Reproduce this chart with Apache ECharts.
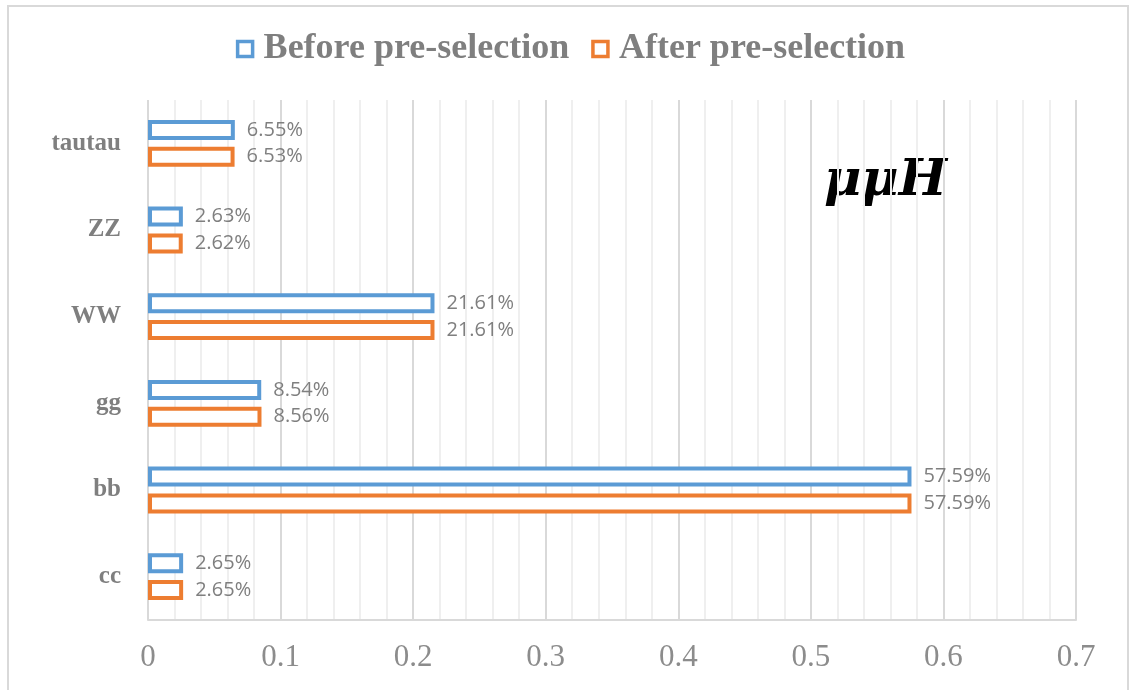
<!DOCTYPE html>
<html>
<head>
<meta charset="utf-8">
<script src="https://cdn.jsdelivr.net/npm/echarts@6/dist/echarts.min.js"></script>
<style>
  html, body { margin: 0; padding: 0; background: #fff; }
  #chart { width: 1141px; height: 690px; }
</style>
</head>
<body>
<div id="chart"></div>
<script>
  // channels, bottom to top
  const categories = ['cc', 'bb', 'gg', 'WW', 'ZZ', 'tautau'];
  const beforeValues = [0.0265, 0.5759, 0.0854, 0.2161, 0.0263, 0.0655];
  const afterValues = [0.0265, 0.5759, 0.0856, 0.2161, 0.0262, 0.0653];
  const seriesNames = ['Before pre-selection', 'After pre-selection'];

  const chart = echarts.init(document.getElementById('chart'));

  const pctLabel = {
    show: true,
    position: 'right',
    distance: 12,
    fontFamily: 'Open Sans',
    fontSize: 20,
    color: '#7f7f7f',
    formatter: (p) => (p.value * 100).toFixed(2) + '%',
  };

  const option = {
    animation: false,
    legend: {
      data: seriesNames,
      icon: 'rect',
      top: 26,
      left: 'center',
      itemWidth: 15,
      itemHeight: 15,
      itemGap: 22,
      itemStyle: { borderWidth: 3.5 },
      textStyle: {
        fontFamily: 'Liberation Serif',
        fontWeight: 'bold',
        fontSize: 36,
        color: '#7f7f7f',
        padding: [0, 0, 0, 6],
      },
    },
    grid: {
      left: 148,
      right: 65,
      top: 100,
      bottom: 70,
    },
    xAxis: {
      type: 'value',
      min: 0,
      max: 0.7,
      interval: 0.1,
      axisLine: { show: true, lineStyle: { color: '#d9d9d9', width: 2 } },
      axisTick: { show: false },
      splitLine: { show: true, lineStyle: { color: '#d9d9d9', width: 2 } },
      minorTick: { show: false, splitNumber: 5 },
      minorSplitLine: { show: true, lineStyle: { color: '#efefef', width: 2 } },
      axisLabel: {
        margin: 22,
        fontFamily: 'Liberation Serif',
        fontSize: 31,
        color: '#8c8c8c',
      },
    },
    yAxis: {
      type: 'category',
      data: categories,
      axisLine: { show: false },
      axisTick: { show: false },
      axisLabel: {
        margin: 27,
        fontFamily: 'Liberation Serif',
        fontWeight: 'bold',
        fontSize: 25,
        color: '#7f7f7f',
      },
    },
    graphic: [
      {
        type: 'rect',
        shape: { x: 8, y: 6, width: 1120, height: 700 },
        style: { fill: 'none', stroke: '#d9d9d9', lineWidth: 2 },
        silent: true,
      },
      {
        type: 'text',
        left: 824,
        top: 156,
        style: {
          text: 'μμH',
          fontFamily: 'DejaVu Serif',
          fontStyle: 'italic',
          fontWeight: 'bold',
          fontSize: 51,
          fill: '#000',
        },
      },
    ],
    series: [
      {
        name: seriesNames[0],
        type: 'bar',
        data: beforeValues,
        barWidth: 20,
        barGap: '34%',
        itemStyle: { color: '#fff', borderColor: '#5b9bd5', borderWidth: 4 },
        label: pctLabel,
      },
      {
        name: seriesNames[1],
        type: 'bar',
        data: afterValues,
        barWidth: 20,
        itemStyle: { color: '#fff', borderColor: '#ed7d31', borderWidth: 4 },
        label: pctLabel,
      },
    ],
  };

  chart.setOption(option);
</script>
</body>
</html>
